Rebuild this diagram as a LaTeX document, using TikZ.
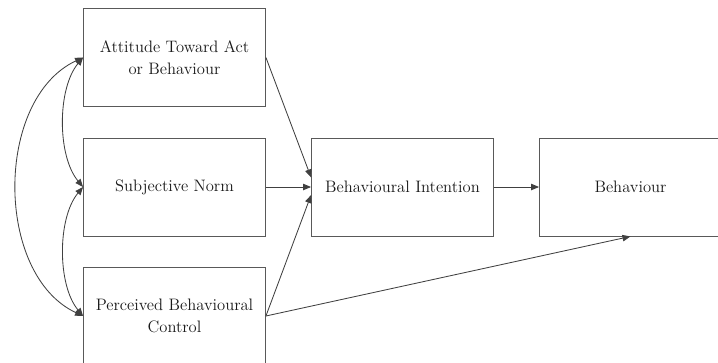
\documentclass[tikz,border=0pt]{standalone}
\usetikzlibrary{arrows.meta, positioning}

\begin{document}
\begin{tikzpicture}[
    box/.style={draw=black!65, line width=0.6pt, minimum width=4.55cm, minimum height=2.45cm,
      align=center, text=black!90, font=\rmfamily\fontsize{11.8}{15.5}\selectfont},
    link/.style={draw=black!75, line width=0.6pt, -{Triangle[length=2mm, width=1.6mm]}},
    both/.style={draw=black!75, line width=0.6pt,
      {Triangle[length=2mm, width=1.6mm]}-{Triangle[length=2mm, width=1.6mm]}}
  ]
  \useasboundingbox (0, 0) rectangle (17.95, 9.05);

  \node[box] (att) at (4.3625, 7.6125) {Attitude Toward Act\\or Behaviour};
  \node[box] (norm) at (4.3625, 4.375) {Subjective Norm};
  \node[box] (pbc) at (4.3625, 1.15) {Perceived Behavioural\\Control};
  \node[box] (intent) at (10.0625, 4.375) {Behavioural Intention};
  \node[box] (behav) at (15.7625, 4.375) {Behaviour};

  % paths into the intention
  \draw[link] (att.east) -- (intent.174);
  \draw[link] (norm.east) -- (intent.west);
  \draw[link] (pbc.east) -- (intent.185);
  \draw[link] (intent.east) -- (behav.west);
  \draw[link] (pbc.east) -- (behav.south);

  % correlations
  \draw[both] (att.west) to[out=230, in=130, looseness=0.8] (norm.west);
  \draw[both] (norm.west) to[out=230, in=130, looseness=0.8] (pbc.west);
  \draw[both] (att.west) to[out=205, in=155, looseness=0.97] (pbc.west);

\end{tikzpicture}
\end{document}
